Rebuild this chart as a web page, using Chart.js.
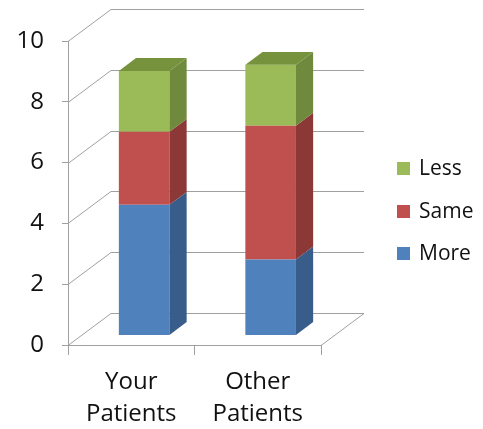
<!DOCTYPE html>
<html>
<head>
<meta charset="utf-8">
<script src="https://cdn.jsdelivr.net/npm/chart.js@4/dist/chart.umd.min.js"></script>
<style>
  html, body { margin: 0; padding: 0; background: #fff; }
</style>
</head>
<body>
<canvas id="chart" width="483" height="429"></canvas>
<script>
const categories = [['Your', 'Patients'], ['Other', 'Patients']];
const seriesNames = ['More', 'Same', 'Less'];
const moreValues = [4.3, 2.5];
const sameValues = [2.4, 4.4];
const lessValues = [2.0, 2.0];
const yTicks = [0, 2, 4, 6, 8, 10];

const frontColors = ['#4F81BD', '#C0504D', '#9BBB59'];
const sideColors = ['#385D8A', '#8C3836', '#6F8A3C'];
const topColors = ['#4A72A6', '#A8433F', '#76923C'];
const gridColor = '#a0a0a0';
const textColor = '#111111';

// offset from the front plane to the back wall of the 3d box
const DEPTH_X = 43, DEPTH_Y = -32;
// bars sit between these fractions of the depth
const BAR_FRONT = 0.3, BAR_BACK = 0.7;

const box3d = {
  id: 'box3d',
  beforeDatasetsDraw(chart) {
    const ctx = chart.ctx, y = chart.scales.y, a = chart.chartArea;
    ctx.save();
    ctx.strokeStyle = gridColor;
    ctx.lineWidth = 1;
    ctx.beginPath();
    yTicks.forEach(v => {
      const py = Math.round(y.getPixelForValue(v)) + 0.5;
      ctx.moveTo(a.left, py);
      ctx.lineTo(a.left + DEPTH_X, py + DEPTH_Y);
      ctx.lineTo(a.right + DEPTH_X, py + DEPTH_Y);
    });
    const pb = Math.round(a.bottom) + 0.5;
    ctx.moveTo(a.right, pb);
    ctx.lineTo(a.right + DEPTH_X, pb + DEPTH_Y);
    ctx.stroke();
    ctx.restore();
    // front faces are drawn by chart.js, pushed back into the box
    ctx.save();
    ctx.translate(DEPTH_X * BAR_FRONT, DEPTH_Y * BAR_FRONT);
  },
  afterDatasetsDraw(chart) {
    const ctx = chart.ctx;
    ctx.restore();
    const fx = DEPTH_X * BAR_FRONT, fy = DEPTH_Y * BAR_FRONT;
    const dx = DEPTH_X * (BAR_BACK - BAR_FRONT), dy = DEPTH_Y * (BAR_BACK - BAR_FRONT);
    const metas = chart.getSortedVisibleDatasetMetas();
    ctx.save();
    metas.forEach((meta, i) => {
      meta.data.forEach(el => {
        const x1 = el.x - el.width / 2 + fx, x2 = el.x + el.width / 2 + fx;
        const top = Math.min(el.y, el.base) + fy, bot = Math.max(el.y, el.base) + fy;
        ctx.fillStyle = sideColors[meta.index];
        ctx.beginPath();
        ctx.moveTo(x2, top);
        ctx.lineTo(x2 + dx, top + dy);
        ctx.lineTo(x2 + dx, bot + dy);
        ctx.lineTo(x2, bot);
        ctx.closePath();
        ctx.fill();
        if (i === metas.length - 1) {
          ctx.fillStyle = topColors[meta.index];
          ctx.beginPath();
          ctx.moveTo(x1, top);
          ctx.lineTo(x2, top);
          ctx.lineTo(x2 + dx, top + dy);
          ctx.lineTo(x1 + dx, top + dy);
          ctx.closePath();
          ctx.fill();
        }
      });
    });
    ctx.restore();
  },
  afterDraw(chart) {
    // legend, top series first
    const ctx = chart.ctx;
    const sets = chart.data.datasets;
    ctx.save();
    ctx.font = '21px "Open Sans"';
    ctx.textBaseline = 'middle';
    for (let k = 0; k < sets.length; k++) {
      const ds = sets[sets.length - 1 - k];
      const cy = 168.5 + k * 42.5;
      ctx.fillStyle = ds.backgroundColor;
      ctx.fillRect(397, Math.round(cy - 6.5), 13, 13);
      ctx.fillStyle = textColor;
      ctx.fillText(ds.label, 419, cy + 1);
    }
    ctx.restore();
  }
};

const seriesValues = [moreValues, sameValues, lessValues];
const axisFont = { family: 'Open Sans', size: 24, lineHeight: 1.3 };

new Chart(document.getElementById('chart'), {
  type: 'bar',
  data: {
    labels: categories,
    datasets: seriesNames.map((name, i) => ({
      label: name,
      data: seriesValues[i],
      backgroundColor: frontColors[i],
      borderWidth: 0,
      categoryPercentage: 1,
      barPercentage: 0.4
    }))
  },
  options: {
    responsive: false,
    animation: false,
    devicePixelRatio: 1,
    layout: { padding: { left: 0, right: 162, top: 41, bottom: 0 } },
    plugins: { legend: { display: false }, tooltip: { enabled: false } },
    scales: {
      x: {
        stacked: true,
        grid: { drawOnChartArea: false, drawTicks: true, tickLength: 10, color: gridColor, offset: true },
        border: { display: true, color: gridColor },
        ticks: { padding: 12, font: axisFont, color: textColor, maxRotation: 0 },
        afterFit(s) { s.height = 84; }
      },
      y: {
        stacked: true,
        min: 0,
        max: 10,
        grid: { drawOnChartArea: false, drawTicks: true, tickLength: 6, color: gridColor },
        border: { display: true, color: gridColor },
        ticks: { stepSize: 2, padding: 18, font: axisFont, color: textColor },
        afterFit(s) { s.width = 68; }
      }
    }
  },
  plugins: [box3d]
});
</script>
</body>
</html>
